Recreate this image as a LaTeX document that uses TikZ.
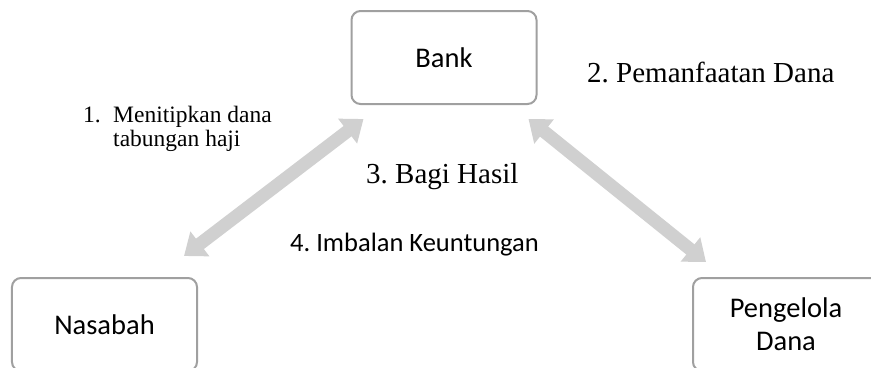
\documentclass[tikz,border=0pt]{standalone}
\usepackage{fontspec}
\setmainfont{Liberation Serif}
\newfontfamily\calibri{Carlito}
\usetikzlibrary{arrows.meta}
\definecolor{boxline}{HTML}{A0A0A0}
\definecolor{arrowgray}{HTML}{D0D0D0}
\frenchspacing

\begin{document}
\begin{tikzpicture}[x=1bp,y=-1bp,
    kotak/.style={draw=boxline,line width=2bp,rounded corners=9bp,minimum width=185bp,minimum height=93bp,align=center,
      font=\calibri\fontsize{28.5bp}{33bp}\selectfont},
    panah/.style={draw=arrowgray,line width=13bp,{Triangle[length=20bp,width=30bp]}-{Triangle[length=20bp,width=30bp]}},
    ket/.style={anchor=base west,inner sep=0pt}]
      \useasboundingbox (0,0) rectangle (871,367);
      \fill[white] (0,0) rectangle (871,367);
      \clip (0,0) rectangle (871,367);
      \node[kotak] (bank) at (444,57.5) {Bank};
      \node[kotak] (nasabah) at (104.5,324.5) {Nasabah};
      \node[kotak,minimum width=186bp] (pengelola) at (786,324.5) {Pengelola\\Dana};
      \draw[panah] ([shift={(-14,-21)}]nasabah.north east) -- ([shift={(13,14)}]bank.south west);
      \draw[panah] ([shift={(-9,14)}]bank.south east) -- ([shift={(14,-15)}]pengelola.north west);
      \node[ket,font=\fontsize{23.5bp}{24bp}\selectfont] (lbl1) at (83,122)
        {\begin{tabular}[t]{@{}l@{\hspace{12.4bp}}l@{}}1. & Menitipkan dana\\ & tabungan haji\end{tabular}};
      \node[ket,font=\fontsize{29bp}{33bp}\selectfont] (lbl2) at (587,82) {2. Pemanfaatan Dana};
      \node[ket,font=\fontsize{29bp}{33bp}\selectfont] (lbl3) at (366,183) {3. Bagi Hasil};
      \node[ket,font=\calibri\fontsize{26.5bp}{30bp}\selectfont] (lbl4) at (290,251) {4. Imbalan Keuntungan};
    \end{tikzpicture}
\end{document}
